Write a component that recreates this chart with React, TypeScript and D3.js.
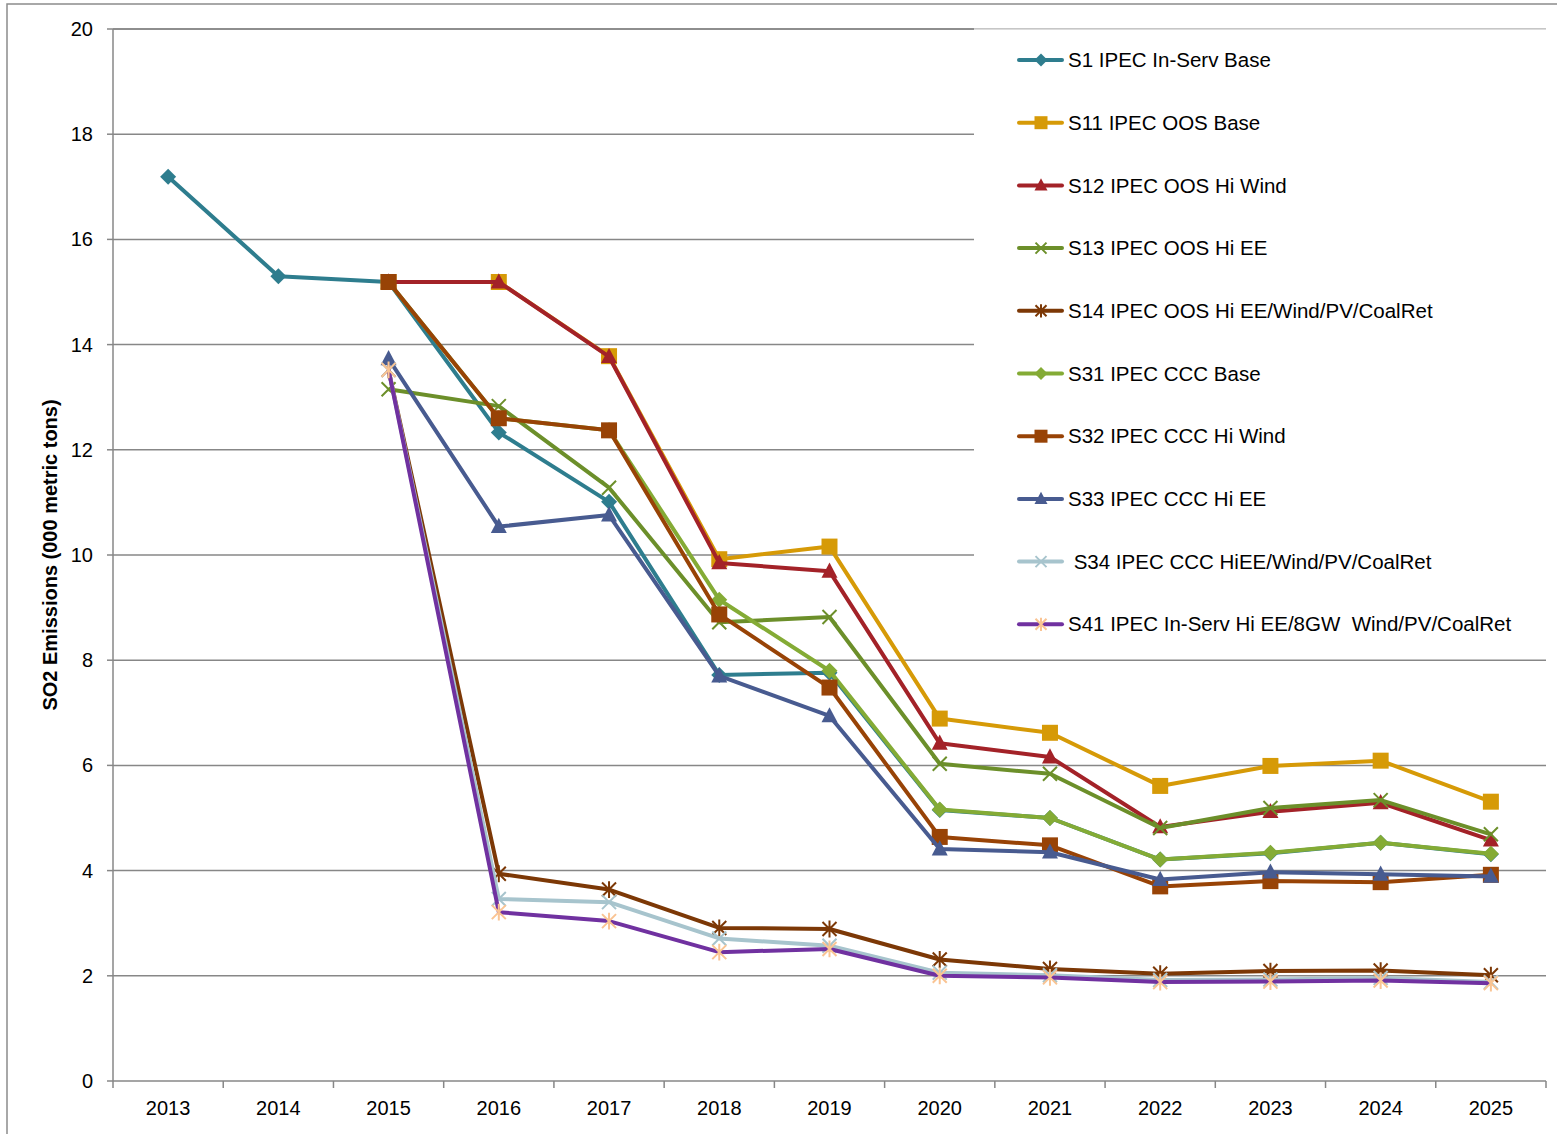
import { useMemo } from "react";
import * as d3 from "d3";

const years = ["2013", "2014", "2015", "2016", "2017", "2018", "2019", "2020", "2021", "2022", "2023", "2024", "2025"];
const yTicks = [0, 2, 4, 6, 8, 10, 12, 14, 16, 18, 20];

type V = number | null;

const s1: V[] = [17.19, 15.3, 15.19, 12.33, 11.01, 7.72, 7.76, 5.15, 5.0, 4.21, 4.33, 4.53, 4.31];
const s11: V[] = [null, null, 15.19, 15.19, 13.78, 9.92, 10.16, 6.89, 6.62, 5.61, 5.99, 6.09, 5.31];
const s12: V[] = [null, null, 15.19, 15.19, 13.77, 9.85, 9.69, 6.42, 6.16, 4.83, 5.12, 5.29, 4.58];
const s13: V[] = [null, null, 13.15, 12.83, 11.28, 8.72, 8.82, 6.03, 5.84, 4.81, 5.19, 5.34, 4.69];
const s14: V[] = [null, null, 13.52, 3.94, 3.64, 2.91, 2.89, 2.31, 2.13, 2.04, 2.09, 2.1, 2.01];
const s31: V[] = [null, null, 15.19, 12.6, 12.37, 9.15, 7.8, 5.16, 5.0, 4.21, 4.34, 4.53, 4.32];
const s32: V[] = [null, null, 15.19, 12.6, 12.37, 8.87, 7.48, 4.64, 4.48, 3.7, 3.8, 3.78, 3.92];
const s33: V[] = [null, null, 13.73, 10.54, 10.76, 7.7, 6.94, 4.41, 4.35, 3.83, 3.97, 3.93, 3.89];
const s34: V[] = [null, null, 13.52, 3.46, 3.4, 2.71, 2.57, 2.06, 2.01, 1.92, 1.93, 1.96, 1.88];
const s41: V[] = [null, null, 13.52, 3.21, 3.04, 2.45, 2.51, 2.0, 1.97, 1.88, 1.89, 1.91, 1.86];

type Marker = "diamond" | "square" | "triangle" | "x" | "star";

interface Series {
  name: string;
  values: V[];
  color: string;
  marker: Marker;
  markerFill: string;
}

const series: Series[] = [
  { name: "S1 IPEC In-Serv Base", values: s1, color: "#2E7D8E", marker: "diamond", markerFill: "#2E7D8E" },
  { name: "S11 IPEC OOS Base", values: s11, color: "#D69A07", marker: "square", markerFill: "#D69A07" },
  { name: "S12 IPEC OOS Hi Wind", values: s12, color: "#A32228", marker: "triangle", markerFill: "#A32228" },
  { name: "S13 IPEC OOS Hi EE", values: s13, color: "#6C8F2A", marker: "x", markerFill: "#6C8F2A" },
  { name: "S14 IPEC OOS Hi EE/Wind/PV/CoalRet", values: s14, color: "#7C3806", marker: "star", markerFill: "#7C3806" },
  { name: "S31 IPEC CCC Base", values: s31, color: "#84AB35", marker: "diamond", markerFill: "#84AB35" },
  { name: "S32 IPEC CCC Hi Wind", values: s32, color: "#984306", marker: "square", markerFill: "#984306" },
  { name: "S33 IPEC CCC Hi EE", values: s33, color: "#485B90", marker: "triangle", markerFill: "#485B90" },
  { name: " S34 IPEC CCC HiEE/Wind/PV/CoalRet", values: s34, color: "#A7C4CD", marker: "x", markerFill: "#A7C4CD" },
  { name: "S41 IPEC In-Serv Hi EE/8GW  Wind/PV/CoalRet", values: s41, color: "#7031A0", marker: "star", markerFill: "#FAC493" },
];

const W = 1557;
const H = 1134;
const PLOT = { left: 113, right: 1546, top: 29, bottom: 1081 };
const GRID = "#878787";

function markerPath(m: Marker, r: number): string {
  switch (m) {
    case "diamond":
      return `M0,${-r}L${r},0L0,${r}L${-r},0Z`;
    case "square":
      return `M${-r},${-r}H${r}V${r}H${-r}Z`;
    case "triangle":
      return `M0,${-r * 1.1}L${r},${r * 0.8}L${-r},${r * 0.8}Z`;
    case "x":
      return `M${-r},${-r}L${r},${r}M${-r},${r}L${r},${-r}`;
    case "star":
      return `M${-r},${-r}L${r},${r}M${-r},${r}L${r},${-r}M0,${-r * 1.2}L0,${r * 1.2}`;
  }
}

function markerSize(m: Marker): number {
  if (m === "diamond") return 8;
  if (m === "square") return 8;
  if (m === "triangle") return 8;
  return 7;
}

function MarkerShape({ m, fill, r }: { m: Marker; fill: string; r: number }) {
  const stroked = m === "x" || m === "star";
  return (
    <path
      d={markerPath(m, r)}
      fill={stroked ? "none" : fill}
      stroke={fill}
      strokeWidth={stroked ? 2 : 0}
    />
  );
}

export default function App() {
  const x = useMemo(
    () => d3.scaleBand<string>().domain(years).range([PLOT.left, PLOT.right]).padding(0),
    []
  );
  const y = useMemo(
    () => d3.scaleLinear().domain([0, 20]).range([PLOT.bottom, PLOT.top]),
    []
  );
  const cx = (yr: string) => (x(yr) ?? 0) + x.bandwidth() / 2;

  const line = d3
    .line<V>()
    .defined((d) => d !== null)
    .x((_, i) => cx(years[i]))
    .y((d) => y(d as number));

  const legendX = 974;
  const legendTop = 60;
  const legendStep = 62.7;

  return (
    <div style={{ position: "absolute", left: 0, top: 0 }}>
      <svg width={W} height={H} style={{ display: "block", fontFamily: "'Liberation Sans', Arial, sans-serif" }}>
        <rect x={0} y={0} width={W} height={H} fill="#fff" />
        <rect x={7} y={4} width={W + 10} height={H + 10} fill="none" stroke="#8c8c8c" strokeWidth={1.5} />

        {/* grid */}
        {yTicks.map((t) => (
          <g key={t}>
            {t > 0 && (
              <line x1={PLOT.left} x2={PLOT.right} y1={y(t)} y2={y(t)} stroke={GRID} strokeWidth={1.5} />
            )}
            <line x1={PLOT.left - 6} x2={PLOT.left} y1={y(t)} y2={y(t)} stroke={GRID} strokeWidth={1.5} />
            <text x={93} y={y(t)} dy="0.35em" textAnchor="end" fontSize={20} fill="#000">
              {t}
            </text>
          </g>
        ))}

        {/* axes */}
        <line x1={PLOT.left} x2={PLOT.left} y1={PLOT.top} y2={PLOT.bottom} stroke={GRID} strokeWidth={1.5} />
        <line x1={PLOT.left} x2={PLOT.right} y1={PLOT.bottom} y2={PLOT.bottom} stroke={GRID} strokeWidth={1.5} />
        {[...years.map((yr) => x(yr) ?? 0), PLOT.right].map((px, i) => (
          <line key={i} x1={px} x2={px} y1={PLOT.bottom} y2={PLOT.bottom + 7} stroke={GRID} strokeWidth={1.5} />
        ))}
        {years.map((yr) => (
          <text key={yr} x={cx(yr)} y={1115} textAnchor="middle" fontSize={20} fill="#000">
            {yr}
          </text>
        ))}

        <text
          transform={`translate(57,${(PLOT.top + PLOT.bottom) / 2}) rotate(-90)`}
          textAnchor="middle"
          fontSize={20}
          fontWeight="bold"
          fill="#000"
        >
          SO2 Emissions (000 metric tons)
        </text>

        {/* legend background */}
        <rect x={legendX} y={PLOT.top + 0.5} width={PLOT.right - legendX} height={627} fill="#fff" />
        <line x1={legendX} x2={PLOT.right} y1={PLOT.top} y2={PLOT.top} stroke="#e6e6e6" strokeWidth={1} />
        <line x1={PLOT.left} x2={legendX} y1={PLOT.top} y2={PLOT.top} stroke={GRID} strokeWidth={1.5} />

        {/* series */}
        {series.map((s) => (
          <g key={s.name}>
            <path d={line(s.values) ?? ""} fill="none" stroke={s.color} strokeWidth={4} strokeLinejoin="round" />
            {s.values.map((v, i) =>
              v === null ? null : (
                <g key={i} transform={`translate(${cx(years[i])},${y(v)})`}>
                  <MarkerShape m={s.marker} fill={s.markerFill} r={markerSize(s.marker)} />
                </g>
              )
            )}
          </g>
        ))}

        {/* legend */}
        {series.map((s, i) => {
          const ly = legendTop + i * legendStep;
          return (
            <g key={s.name} transform={`translate(0,${ly})`}>
              <line x1={1019} x2={1062} y1={0} y2={0} stroke={s.color} strokeWidth={4} strokeLinecap="round" />
              <g transform="translate(1041,0)">
                <MarkerShape m={s.marker} fill={s.markerFill} r={markerSize(s.marker) - 1.5} />
              </g>
              <text x={1068} y={0} dy="0.35em" fontSize={20.5} fill="#000" xmlSpace="preserve" style={{ whiteSpace: "pre" }}>
                {s.name}
              </text>
            </g>
          );
        })}
      </svg>
    </div>
  );
}
